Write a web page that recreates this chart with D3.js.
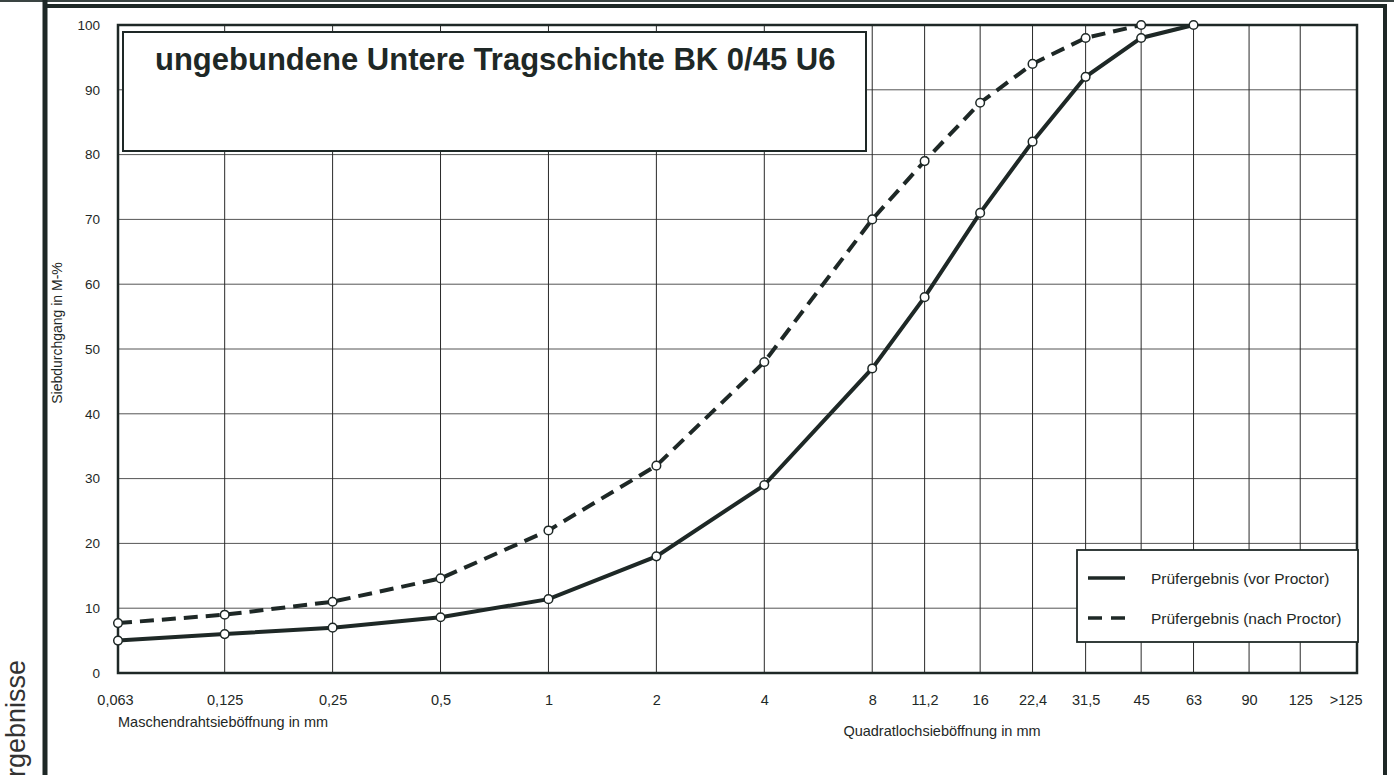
<!DOCTYPE html>
<html>
<head>
<meta charset="utf-8">
<script src="https://cdn.jsdelivr.net/npm/d3@7"></script>
<style>
  body { margin: 0; background: #fff; }
  svg { display: block; font-family: "Liberation Sans", Arial, sans-serif; }
</style>
</head>
<body>
<svg width="1394" height="775"></svg>
<script>
// sieve sizes in mm (last one stands for ">125")
var sieves = [0.063, 0.125, 0.25, 0.5, 1, 2, 4, 8, 11.2, 16, 22.4, 31.5, 45, 63, 90, 125, 175];
var sieveLabels = ['0,063', '0,125', '0,25', '0,5', '1', '2', '4', '8', '11,2', '16', '22,4', '31,5', '45', '63', '90', '125', '>125'];
var yTicks = [0, 10, 20, 30, 40, 50, 60, 70, 80, 90, 100];

// passing in M-% per sieve
var vorSieves = [0.063, 0.125, 0.25, 0.5, 1, 2, 4, 8, 11.2, 16, 22.4, 31.5, 45, 63];
var vorValues = [5, 6, 7, 8.6, 11.4, 18, 29, 47, 58, 71, 82, 92, 98, 100];
var nachSieves = [0.063, 0.125, 0.25, 0.5, 1, 2, 4, 8, 11.2, 16, 22.4, 31.5, 45];
var nachValues = [7.7, 9, 11, 14.6, 22, 32, 48, 70, 79, 88, 94, 98, 100];

var title = 'ungebundene Untere Tragschichte BK 0/45 U6';
var legendLabels = ['Prüfergebnis (vor Proctor)', 'Prüfergebnis (nach Proctor)'];

var ink = '#1e2826';
var svg = d3.select('svg');

var plotLeft = 118, plotRight = 1357, plotTop = 25, plotBottom = 673;

var xScale = d3.scaleLog()
    .domain([0.063, 180])
    .range([plotLeft, plotRight]);

var yScale = d3.scaleLinear()
    .domain([0, 100])
    .range([plotBottom, plotTop]);

// page frame
svg.append('line').attr('x1', 0).attr('x2', 1394).attr('y1', 1).attr('y2', 1)
    .attr('stroke', '#3a4442').attr('stroke-width', 2);
svg.append('line').attr('x1', 45).attr('x2', 1387).attr('y1', 6).attr('y2', 6)
    .attr('stroke', ink).attr('stroke-width', 4);
svg.append('line').attr('x1', 45).attr('x2', 45).attr('y1', 0).attr('y2', 775)
    .attr('stroke', ink).attr('stroke-width', 5);
svg.append('line').attr('x1', 1385).attr('x2', 1385).attr('y1', 4).attr('y2', 775)
    .attr('stroke', ink).attr('stroke-width', 4);

svg.append('text')
    .attr('transform', 'translate(25,660) rotate(-90)')
    .attr('text-anchor', 'end')
    .attr('font-size', 27)
    .attr('fill', '#333')
    .text('Prüfergebnisse');

// grid
var grid = svg.append('g').attr('stroke', '#2a2a2a').attr('stroke-width', 1);
grid.selectAll('.h').data(yTicks.slice(1, -1)).enter().append('line')
    .attr('x1', plotLeft).attr('x2', plotRight)
    .attr('y1', function(d) { return yScale(d); })
    .attr('y2', function(d) { return yScale(d); })
    .attr('stroke', '#555');
grid.selectAll('.v').data(sieves.slice(1, -1)).enter().append('line')
    .attr('x1', function(d) { return xScale(d); })
    .attr('x2', function(d) { return xScale(d); })
    .attr('y1', plotTop).attr('y2', plotBottom);

// axes (labels only)
var yAxis = svg.append('g')
    .attr('transform', 'translate(' + plotLeft + ',0)')
    .call(d3.axisLeft(yScale).tickValues(yTicks).tickSize(0).tickPadding(18));
yAxis.select('.domain').remove();
yAxis.selectAll('text').attr('font-size', 13.5).attr('fill', ink).attr('font-family', null);

var xAxis = svg.append('g')
    .attr('transform', 'translate(0,' + plotBottom + ')')
    .call(d3.axisBottom(xScale).tickValues(sieves).tickSize(0).tickPadding(22)
        .tickFormat(function(d, i) { return sieveLabels[i]; }));
xAxis.select('.domain').remove();
xAxis.selectAll('text').attr('font-size', 14.5).attr('fill', ink).attr('font-family', null)
    .attr('dx', function(d) { return d === 0.063 ? -3 : (d === 175 ? -7 : 0); });

svg.append('text')
    .attr('x', 118).attr('y', 727)
    .attr('font-size', 14.5).attr('fill', ink)
    .text('Maschendrahtsieböffnung in mm');
svg.append('text')
    .attr('x', 942).attr('y', 736)
    .attr('text-anchor', 'middle')
    .attr('font-size', 14.5).attr('fill', ink)
    .text('Quadratlochsieböffnung in mm');
svg.append('text')
    .attr('transform', 'translate(62,333) rotate(-90)')
    .attr('text-anchor', 'middle')
    .attr('font-size', 14).attr('fill', ink)
    .text('Siebdurchgang in M-%');

// plot border
svg.append('rect')
    .attr('x', plotLeft).attr('y', plotTop)
    .attr('width', plotRight - plotLeft).attr('height', plotBottom - plotTop)
    .attr('fill', 'none').attr('stroke', ink).attr('stroke-width', 2.5);

// title box
svg.append('rect')
    .attr('x', 123).attr('y', 32).attr('width', 743).attr('height', 119)
    .attr('fill', '#fff').attr('stroke', ink).attr('stroke-width', 2);
svg.append('text')
    .attr('x', 155).attr('y', 70)
    .attr('font-size', 31).attr('font-weight', 'bold').attr('fill', ink)
    .text(title);

// series
var line = d3.line()
    .x(function(d) { return xScale(d[0]); })
    .y(function(d) { return yScale(d[1]); });

var vorData = vorSieves.map(function(s, i) { return [s, vorValues[i]]; });
var nachData = nachSieves.map(function(s, i) { return [s, nachValues[i]]; });

svg.append('path').datum(nachData)
    .attr('d', line)
    .attr('fill', 'none').attr('stroke', ink).attr('stroke-width', 4)
    .attr('stroke-dasharray', '14,8');
svg.append('path').datum(vorData)
    .attr('d', line)
    .attr('fill', 'none').attr('stroke', ink).attr('stroke-width', 4);

[nachData, vorData].forEach(function(data) {
    svg.append('g').selectAll('circle').data(data).enter().append('circle')
        .attr('cx', function(d) { return xScale(d[0]); })
        .attr('cy', function(d) { return yScale(d[1]); })
        .attr('r', 4.3)
        .attr('fill', '#fff').attr('stroke', ink).attr('stroke-width', 1.5);
});

// legend
var legend = svg.append('g').attr('transform', 'translate(1077,550)');
legend.append('rect')
    .attr('width', 281).attr('height', 92)
    .attr('fill', '#fff').attr('stroke', ink).attr('stroke-width', 1.8);
legendLabels.forEach(function(label, i) {
    var y = 28 + i * 40;
    legend.append('line')
        .attr('x1', 11).attr('x2', 48).attr('y1', y).attr('y2', y)
        .attr('stroke', ink).attr('stroke-width', 3.5)
        .attr('stroke-dasharray', i === 1 ? '14,9' : null);
    legend.append('text')
        .attr('x', 74).attr('y', y + 6)
        .attr('font-size', 15.5).attr('fill', ink)
        .text(label);
});
</script>
</body>
</html>
